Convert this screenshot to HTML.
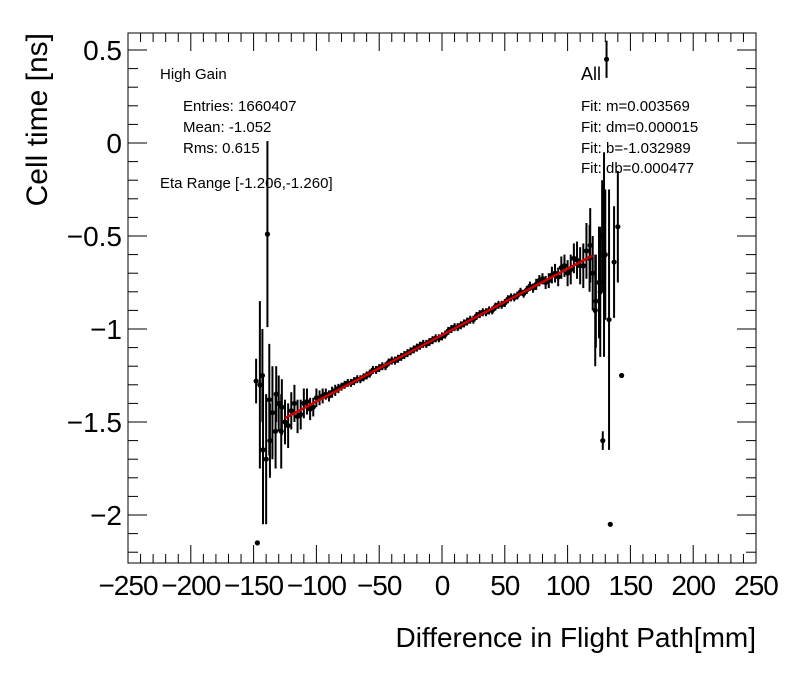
<!DOCTYPE html>
<html><head><meta charset="utf-8"><style>
body{margin:0;background:#fff;width:796px;height:672px;overflow:hidden;font-family:"Liberation Sans",Arial,sans-serif}
svg text{font-family:"Liberation Sans",Arial,sans-serif}
</style></head><body>
<svg id="chart" width="796" height="672" xmlns="http://www.w3.org/2000/svg"></svg>
<script>
const xVals=[-145,-140,-135,-130,-125,-120,-115,-110,-105,-100,-95,-90,-85,-80,-75,-70,-65,-60,-55,-50,-45,-40,-35,-30,-25,-20,-15,-10,-5,0,5,10,15,20,25,30,35,40,45,50,55,60,65,70,75,80,85,90,95,100,105,110,115,120,125,130,131,134,128,143,137,140,-148,-147,-139,-143,-137,-132,-128,122,126,118,
-142.5,-137.5,-132.5,-127.5,-122.5,-117.5,-112.5,-107.5,-102.5,-97.5,-92.5,-87.5,-82.5,-77.5,-72.5,-67.5,-62.5,-57.5,-52.5,-47.5,-42.5,-37.5,-32.5,-27.5,-22.5,-17.5,-12.5,-7.5,-2.5,2.5,7.5,12.5,17.5,22.5,27.5,32.5,37.5,42.5,47.5,52.5,57.5,62.5,67.5,72.5,77.5,82.5,87.5,92.5,97.5,102.5,107.5,112.5,117.5,122.5,127.5,129,133];
const yVals=[-1.30,-1.70,-1.45,-1.40,-1.50,-1.44,-1.47,-1.40,-1.43,-1.37,-1.36,-1.36,-1.33,-1.31,-1.29,-1.28,-1.27,-1.25,-1.22,-1.21,-1.20,-1.17,-1.16,-1.14,-1.12,-1.10,-1.08,-1.07,-1.05,-1.04,-1.01,-0.99,-0.98,-0.96,-0.95,-0.92,-0.91,-0.90,-0.87,-0.86,-0.83,-0.82,-0.81,-0.77,-0.76,-0.73,-0.74,-0.70,-0.67,-0.70,-0.62,-0.66,-0.58,-0.70,-0.75,-0.60,0.45,-2.05,-1.60,-1.25,-0.64,-0.45,-1.28,-2.15,-0.49,-1.25,-1.60,-1.35,-1.55,-0.90,-0.80,-0.55,
-1.65,-1.38,-1.55,-1.42,-1.52,-1.40,-1.46,-1.39,-1.42,-1.37,-1.35,-1.34,-1.32,-1.30,-1.29,-1.27,-1.26,-1.24,-1.22,-1.20,-1.18,-1.17,-1.15,-1.13,-1.11,-1.09,-1.08,-1.06,-1.05,-1.03,-1.00,-0.99,-0.97,-0.95,-0.93,-0.91,-0.90,-0.88,-0.87,-0.84,-0.83,-0.80,-0.79,-0.78,-0.74,-0.75,-0.71,-0.72,-0.66,-0.68,-0.63,-0.66,-0.62,-0.85,-0.50,-0.60,-0.95];
const yErrs=[0.45,0.35,0.25,0.15,0.12,0.10,0.09,0.08,0.06,0.05,0.04,0.03,0.03,0.02,0.02,0.02,0.02,0.02,0.02,0.02,0.02,0.02,0.02,0.02,0.02,0.02,0.02,0.02,0.02,0.02,0.02,0.02,0.02,0.02,0.02,0.02,0.02,0.02,0.02,0.02,0.02,0.02,0.02,0.025,0.03,0.03,0.04,0.05,0.06,0.07,0.08,0.10,0.15,0.20,0.30,0.35,0.10,0,0.05,0,0.30,0.30,0.12,0,0.50,0.25,0.20,0.15,0.20,0.30,0.35,0.20,
0.40,0.30,0.20,0.15,0.12,0.10,0.08,0.07,0.05,0.04,0.03,0.03,0.025,0.02,0.02,0.02,0.02,0.02,0.02,0.02,0.02,0.02,0.02,0.02,0.02,0.02,0.02,0.02,0.02,0.02,0.02,0.02,0.02,0.02,0.02,0.02,0.02,0.02,0.02,0.02,0.02,0.02,0.02,0.025,0.03,0.035,0.045,0.05,0.06,0.08,0.10,0.12,0.18,0.25,0.30,0.55,0.70];
const xTicks=[-250,-200,-150,-100,-50,0,50,100,150,200,250];
const yTicks=[0.5,0,-0.5,-1,-1.5,-2];
const fitM=0.003569, fitB=-1.032989, fitRange=[-125,120];
const L=128,R=756,T=33,B=563;
const X=v=>442+v*1.256;
const Y=v=>143-v*186;
const svg=document.getElementById('chart');
const NS='http://www.w3.org/2000/svg';
function mk(tag,at,txt){const e=document.createElementNS(NS,tag);for(const k in at)e.setAttribute(k,at[k]);if(txt!==undefined)e.textContent=txt;svg.appendChild(e);return e;}
let f=mk('rect',{x:L,y:T,width:R-L,height:B-T,fill:'none',stroke:'#000','stroke-width':1});


for(let v=-250;v<=250;v+=10){const maj=v%50===0;const len=maj?18:9;const x=X(v);
 let t=mk('line',{x1:x,x2:x,y1:B,y2:B-len,stroke:'#000'});
 
 
 let t2=mk('line',{x1:x,x2:x,y1:T,y2:T+len,stroke:'#000'});
 
 }
for(let i=-22;i<=5;i++){const v=i/10;const maj=i%5===0;const len=maj?19:10;const y=Y(v);
 let t=mk('line',{x1:L,x2:L+len,y1:y,y2:y,stroke:'#000'});
 
 
 let t2=mk('line',{x1:R,x2:R-len,y1:y,y2:y,stroke:'#000'});
 
 }
xTicks.forEach(v=>{let t=mk('text',{x:X(v),y:595,'font-size':28,'text-anchor':'middle','letter-spacing':-1},v<0?'\u2212'+(-v):String(v));
 
 });
yTicks.forEach(v=>{let t=mk('text',{x:122,y:Y(v)+10,'font-size':28,'text-anchor':'end'},v<0?'\u2212'+(-v):String(v));
 
 });
xVals.forEach((xv,i)=>{const x=X(xv),y=Y(yVals[i]),e=Math.max(yErrs[i]*186,yErrs[i]>0?4:0);
 if(e>0){let l=mk('line',{x1:x,x2:x,y1:y-e,y2:y+e,stroke:'#000','stroke-width':2});
 
 }
 let c=mk('circle',{cx:x,cy:y,r:2.6,fill:'#000'});
 
 });
let fl=mk('line',{x1:X(fitRange[0]),y1:Y(fitM*fitRange[0]+fitB),x2:X(fitRange[1]),y2:Y(fitM*fitRange[1]+fitB),stroke:'#d00000','stroke-width':2.5});


const labels=[[160,79,15,'High Gain','legend-title'],[183,111,15,'Entries: 1660407','stat-entries'],[183,132,15,'Mean: -1.052','stat-mean'],[183,153,15,'Rms: 0.615','stat-rms'],[160,188,15,'Eta Range [-1.206,-1.260]','eta-range'],[581,80,18,'All','label-all'],[581,111,15,'Fit: m=0.003569','fit-m'],[581,132,15,'Fit: dm=0.000015','fit-dm'],[581,153,15,'Fit: b=-1.032989','fit-b'],[581,173,15,'Fit: db=0.000477','fit-db']];
labels.forEach(a=>{let t=mk('text',{x:a[0],y:a[1],'font-size':a[2]},a[3]);
 
 });
let xt=mk('text',{x:756,y:647,'font-size':28,'text-anchor':'end'},'Difference in Flight Path[mm]');


let yt=mk('text',{x:0,y:0,'font-size':30,'text-anchor':'end',transform:'translate(47,33) rotate(-90)'},'Cell time [ns]');


</script>
</body></html>
